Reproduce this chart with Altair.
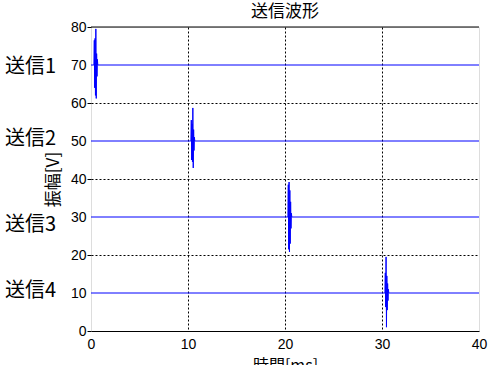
import altair as alt
import pandas as pd

CJK = "Noto Sans CJK JP"
LAT = "Liberation Sans"

title_text = "送信波形"
x_title = "時間[ms]"
y_title = "振幅[V]"

x_ticks = [0, 10, 20, 30, 40]
y_ticks = [0, 10, 20, 30, 40, 50, 60, 70, 80]

ch_names = ["送信1", "送信2", "送信3", "送信4"]
ch_levels = [70, 50, 30, 10]
label_y = [69.5, 50.5, 28.0, 10.5]

ch1_t = [0.0, 0.30, 0.34, 0.38, 0.42, 0.46, 0.50, 0.54, 0.58, 0.62, 0.66, 0.70, 40.0]
ch1_v = [70.0, 70.0, 76.5, 64.0, 77.0, 62.0, 79.5, 61.2, 73.0, 67.0, 71.5, 70.0, 70.0]

ch2_t = [0.0, 10.30, 10.34, 10.38, 10.42, 10.46, 10.50, 10.54, 10.58, 10.62, 10.66, 10.70, 40.0]
ch2_v = [50.0, 50.0, 55.5, 45.0, 54.5, 44.5, 58.7, 42.9, 53.0, 47.5, 51.0, 50.0, 50.0]

ch3_t = [0.0, 20.30, 20.34, 20.38, 20.42, 20.46, 20.50, 20.54, 20.58, 20.62, 20.66, 20.70, 40.0]
ch3_v = [30.0, 30.0, 38.5, 21.5, 39.2, 20.8, 37.0, 23.0, 34.0, 27.0, 31.0, 30.0, 30.0]

ch4_t = [0.0, 30.30, 30.34, 30.38, 30.42, 30.46, 30.50, 30.54, 30.58, 30.62, 30.66, 30.70, 40.0]
ch4_v = [10.0, 10.0, 15.3, 6.3, 19.5, 1.0, 14.5, 5.5, 12.5, 8.0, 11.0, 10.0, 10.0]

top_border = [80]

rows = []
for name, ts, vs in zip(ch_names, [ch1_t, ch2_t, ch3_t, ch4_t], [ch1_v, ch2_v, ch3_v, ch4_v]):
    for i, (t, v) in enumerate(zip(ts, vs)):
        rows.append({"ch": name, "i": i, "t": t, "v": v})
df = pd.DataFrame(rows)

labels_df = pd.DataFrame({"name": ch_names, "v": label_y})
top_df = pd.DataFrame({"v": top_border})

x_axis = alt.Axis(
    values=x_ticks, title=x_title, grid=True, gridDash=[2, 2], gridColor="#000",
    gridOpacity={"condition": {"test": "datum.value > 0 && datum.value < 40", "value": 1}, "value": 0},
    tickSize=0, labelPadding=6, domainColor="#000", labelFontSize=14, titleFontSize=16,
    titlePadding=6, labelColor="#000", titleColor="#000", titleFontWeight="normal",
    labelFlush=False, labelOverlap=False, labelFont=LAT, titleFont=CJK, format="d",
)
y_axis = alt.Axis(
    values=y_ticks, title=y_title, grid=True, gridDash=[2, 2], gridColor="#000",
    gridOpacity={"condition": {"test": "datum.value % 20 === 0 && datum.value > 0 && datum.value < 80", "value": 1}, "value": 0},
    tickSize=4, tickColor="#000",
    tickOpacity={"condition": {"test": "datum.value % 20 === 0", "value": 1}, "value": 0},
    domain=False, labelPadding=1, labelFontSize=14, labelColor="#000", labelFont=LAT,
    titleFontSize=17, titleFont=CJK, titleColor="#000", titleFontWeight="normal",
    titlePadding=8, labelOverlap=False, format="d",
)
y_scale = alt.Scale(domain=[0, 80], nice=False)

line = alt.Chart(df).mark_line(color="#0000ff", strokeWidth=1).encode(
    x=alt.X("t:Q", scale=alt.Scale(domain=[0, 40], nice=False, zero=False), axis=x_axis),
    y=alt.Y("v:Q", scale=y_scale, axis=y_axis),
    detail="ch:N",
    order="i:Q",
)

top = alt.Chart(top_df).mark_rule(color="#000", strokeWidth=1).encode(
    y=alt.Y("v:Q", scale=y_scale, axis=y_axis),
)

labels = alt.Chart(labels_df).mark_text(
    align="left", baseline="middle", fontSize=20, font=CJK, color="#000"
).encode(
    y=alt.Y("v:Q", scale=y_scale, axis=y_axis),
    x=alt.value(-86),
    text="name:N",
)

chart = alt.layer(line, top, labels).properties(
    width=388,
    height=304,
    autosize="none",
    padding={"left": 91, "top": 27, "right": 12, "bottom": 34},
    title=alt.TitleParams(title_text, fontSize=17, font=CJK, fontWeight="normal",
                          color="#000", offset=-1, anchor="middle"),
).configure_view(stroke=None).configure(background="white")

chart.save("out.html", embed_options={"renderer": "svg", "actions": False})
